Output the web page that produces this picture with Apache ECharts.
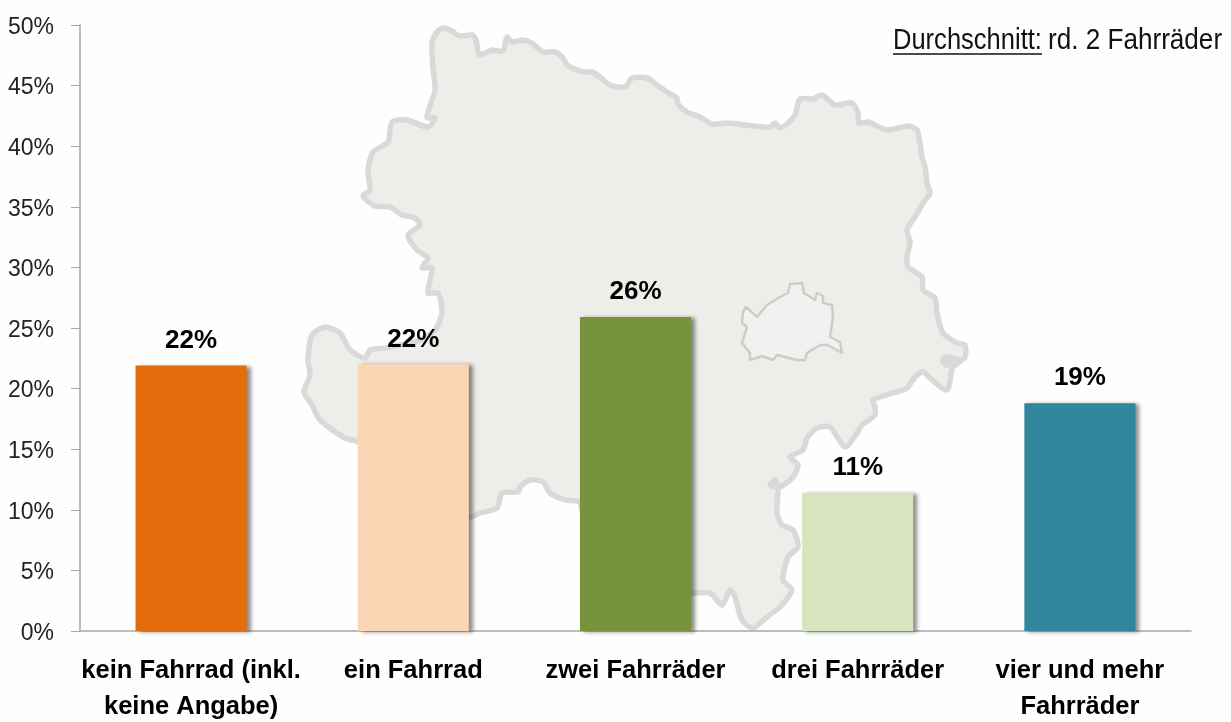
<!DOCTYPE html>
<html lang="de">
<head>
    <meta charset="utf-8">
    <title>Fahrräder</title>
    <script src="https://cdn.jsdelivr.net/npm/echarts@6/dist/echarts.min.js"></script>
    <style>
        html, body { margin: 0; padding: 0; background: #fff; }
        #main { width: 1231px; height: 722px; }
    </style>
</head>
<body>
<div id="main"></div>
<script type="text/javascript">
    const categories = ['kein Fahrrad (inkl.\nkeine Angabe)', 'ein Fahrrad', 'zwei Fahrräder', 'drei Fahrräder', 'vier und mehr\nFahrräder'];
    const values = [21.9, 22.0, 25.9, 11.4, 18.8];
    const barColors = ['#E46C0A', '#FCD5B5', '#77933C', '#D7E4BD', '#31859C'];
    const noteLabel = 'Durchschnitt:';
    const noteText = 'rd. 2 Fahrräder';

    const FONT = '"Liberation Sans", sans-serif';

    // background map, traced by hand (screen pixels) - decoration only
    const mapOutline = [
        [437,32],[443,28],[452,31],[457,35],[463,36],[472,35],[476,40],[479,55],[485,53],[492,50],[503,51],[507,37],[512,42],[523,40],[532,43],[543,52],[555,52],[563,58],[567,65],[583,72],[592,72],[600,77],[610,85],[625,87],[632,78],[647,78],[657,85],[667,92],[677,98],[677,103],[687,112],[700,117],
        [712,124],[728,123],[753,126],[770,127],[775,123],[780,128],[788,123],[795,115],[800,99],[813,99],[822,95],[835,105],[852,103],[858,113],[859,123],[868,122],[887,130],[908,126],[917,130],[920,143],[922,157],[925,167],[927,183],[930,193],[923,203],[915,217],[907,230],[910,242],[907,257],[908,267],[922,277],[923,290],[935,298],[937,313],[943,333],[957,343],[965,345],[965,357],[953,367],[947,390],[930,378],[923,372],[915,377],[907,388],[893,393],[873,400],
        [875,407],[875,415],[862,425],[857,433],[845,447],[830,427],[817,428],[807,438],[803,450],[790,457],[798,465],[793,477],[780,487],[770,485],[775,480],[778,487],[777,513],[782,525],[793,530],[798,547],[788,557],[783,580],[792,590],[780,607],[767,617],[753,628],[742,620],[735,597],[730,590],[722,605],[710,593],[692,593],
        [600,590],[580,503],[565,500],[550,493],[543,482],[530,480],[520,487],[518,492],[502,493],[497,508],[480,513],[470,517],[420,500],[358,442],[345,438],[320,420],[312,405],[304,392],[310,375],[308,360],[312,335],[325,327],[340,333],[350,350],[365,358],[370,350],[385,348],[400,345],[420,340],[435,330],[442,313],
        [438,293],[428,293],[432,268],[422,268],[428,258],[417,250],[408,235],[420,225],[415,218],[402,215],[390,207],[375,206],[363,196],[370,190],[368,170],[373,152],[388,142],[392,122],[407,120],[428,127],[435,118],[427,117],[435,90],[433,67],[432,43]
    ];
    const viennaOutline = [
        [746,307],[757,317],[767,305],[780,297],[788,293],[790,284],[802,283],[804,293],[815,300],[817,293],[823,296],[823,303],[832,305],[833,317],[830,337],[840,342],[842,353],[828,345],[820,345],[807,353],[805,360],[797,360],[777,355],[773,360],[762,356],[750,360],[750,353],[742,343],[747,327],[742,323],[743,312]
    ];

    let myChart = echarts.init(document.getElementById('main'));
    const option = {
        backgroundColor: '#fefefe',
        animation: false,
        grid: { left: 80, right: 40, top: 25, bottom: 91, outerBoundsMode: 'none' },
        graphic: [
            {
                type: 'polygon', z: 0, silent: true,
                shape: { points: mapOutline, smooth: 0.25 },
                style: { fill: '#EDEDEA', stroke: '#D9D9D9', lineWidth: 5.5, lineJoin: 'round' }
            },
            {
                type: 'polygon', z: 0, silent: true,
                shape: { points: viennaOutline },
                style: { fill: '#F1F1EF', stroke: '#CCCCCA', lineWidth: 2.5, lineJoin: 'round' }
            },
            {
                type: 'polygon', z: 0, silent: true,
                shape: { points: [[941,356],[950,354],[962,358],[958,367],[946,368],[940,363]] },
                style: { fill: '#D9D9D9' }
            },
            {
                type: 'text', z: 5, x: 893, y: 26, scaleX: 0.88, silent: true,
                style: { text: noteLabel, font: '29px ' + FONT, fill: '#111' }
            },
            {
                type: 'line', z: 5, silent: true,
                shape: { x1: 893, y1: 54, x2: 1042, y2: 54 },
                style: { stroke: '#111', lineWidth: 1.5 }
            },
            {
                type: 'text', z: 5, x: 1048, y: 26, scaleX: 0.9, silent: true,
                style: { text: noteText, font: '29px ' + FONT, fill: '#111' }
            }
        ],
        xAxis: {
            type: 'category',
            data: categories,
            axisLine: { lineStyle: { color: '#A6A6A6', width: 1.5 } },
            axisTick: { show: false },
            axisLabel: {
                margin: 22,
                interval: 0,
                color: '#000',
                fontFamily: FONT,
                fontWeight: 'bold',
                fontSize: 25.5,
                lineHeight: 36
            }
        },
        yAxis: {
            type: 'value',
            min: 0,
            max: 50,
            interval: 5,
            splitLine: { show: false },
            axisLine: { show: true, lineStyle: { color: '#A6A6A6', width: 1.5 } },
            axisTick: { show: true, length: 9, lineStyle: { color: '#A6A6A6' } },
            axisLabel: {
                margin: 26,
                formatter: '{t|{value}%}',
                rich: {
                    // nudges the text down a little to sit on its tick
                    t: { padding: [5, 0, 0, 0], color: '#222', fontFamily: FONT, fontSize: 23 }
                }
            }
        },
        series: [{
            type: 'bar',
            barWidth: '50%',
            data: values.map(function (v, i) {
                return { value: v, itemStyle: { color: barColors[i] } };
            }),
            itemStyle: {
                shadowColor: 'rgba(0,0,0,0.45)',
                shadowBlur: 4,
                shadowOffsetX: 4,
                shadowOffsetY: 1
            },
            label: {
                show: true,
                position: 'top',
                distance: 12,
                color: '#000',
                fontFamily: FONT,
                fontWeight: 'bold',
                fontSize: 26,
                formatter: function (p) { return Math.round(p.value) + '%'; }
            }
        }]
    };
    myChart.setOption(option);
</script>
</body>
</html>
